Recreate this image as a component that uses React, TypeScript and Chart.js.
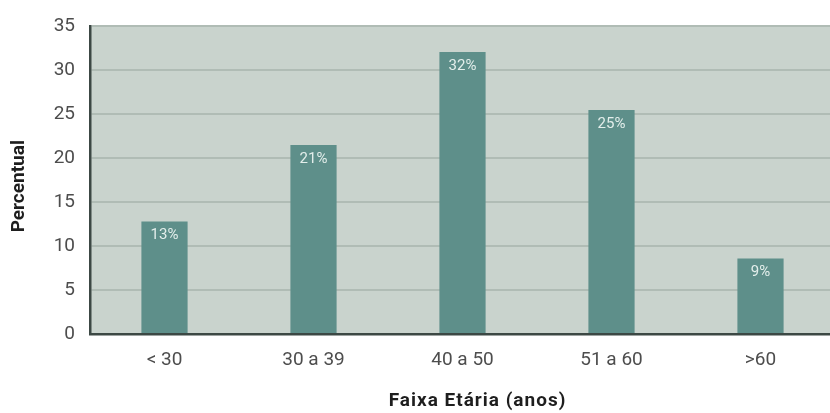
import React, { useEffect, useRef } from "react";
import { Chart, registerables } from "chart.js";

Chart.register(...registerables);

const categories = ["< 30", "30 a 39", "40 a 50", "51 a 60", ">60"];
const values = [12.8, 21.5, 32.1, 25.5, 8.6];
const valueLabels = ["13%", "21%", "32%", "25%", "9%"];
const yTicks = [0, 5, 10, 15, 20, 25, 30, 35];
const xTitle = "Faixa Etária (anos)";
const yTitle = "Percentual";

const bgPlugin = {
  id: "plotBg",
  beforeDraw(chart: any) {
    const { ctx, chartArea } = chart;
    ctx.save();
    ctx.fillStyle = "#c9d3cd";
    ctx.fillRect(chartArea.left, chartArea.top, chartArea.right - chartArea.left, chartArea.bottom - chartArea.top);
    ctx.restore();
  },
};

const labelPlugin = {
  id: "barLabels",
  afterDatasetsDraw(chart: any) {
    const { ctx } = chart;
    const meta = chart.getDatasetMeta(0);
    ctx.save();
    ctx.fillStyle = "#e3eeeb";
    ctx.font = "15px Roboto";
    ctx.textAlign = "center";
    ctx.textBaseline = "middle";
    meta.data.forEach((bar: any, i: number) => {
      ctx.fillText(valueLabels[i], bar.x, bar.y + 14);
    });
    ctx.restore();
  },
};

const titlePlugin = {
  id: "axisTitles",
  afterDraw(chart: any) {
    const { ctx, chartArea } = chart;
    ctx.save();
    ctx.fillStyle = "#1e1e1e";
    ctx.font = "bold 19px Roboto";
    ctx.textAlign = "center";
    ctx.textBaseline = "middle";
    (ctx as any).letterSpacing = "1px";
    const xCenter = (chartArea.left + chartArea.right) / 2 + 15;
    ctx.fillText(xTitle, xCenter, chartArea.bottom + 67);
    (ctx as any).letterSpacing = "0px";
    ctx.translate(19, (chartArea.top + chartArea.bottom) / 2 + 6);
    ctx.rotate(-Math.PI / 2);
    ctx.fillText(yTitle, 0, 0);
    ctx.restore();
  },
};

export default function App() {
  const ref = useRef<HTMLCanvasElement>(null);
  useEffect(() => {
    if (!ref.current) return;
    const chart = new Chart(ref.current, {
      type: "bar",
      data: {
        labels: categories,
        datasets: [
          {
            data: values,
            backgroundColor: "#5e8f8a",
            barPercentage: 0.31,
            categoryPercentage: 1,
          },
        ],
      },
      options: {
        responsive: false,
        animation: false,
        layout: { padding: { top: 26, right: 0, bottom: 0, left: 0 } },
        plugins: { legend: { display: false }, tooltip: { enabled: false } },
        scales: {
          x: {
            grid: { display: false },
            border: { color: "#3c4844", width: 2.5 },
            ticks: { color: "#4d4d4d", font: { family: "Roboto", size: 19 }, padding: 7 },
            afterFit(s: any) {
              s.height = 79;
            },
          },
          y: {
            min: 0,
            max: 35,
            afterBuildTicks(s: any) {
              s.ticks = yTicks.map((v) => ({ value: v }));
            },
            grid: { color: "#b0bcb5", lineWidth: 2, drawTicks: false },
            border: { color: "#3c4844", width: 2.5 },
            ticks: { color: "#4d4d4d", font: { family: "Roboto", size: 19 }, padding: 15 },
            afterFit(s: any) {
              s.width = 90;
            },
          },
        },
      },
      plugins: [bgPlugin, labelPlugin, titlePlugin],
    });
    return () => chart.destroy();
  }, []);
  return (
    <div style={{ position: "fixed", left: 0, top: 0, width: 830, height: 413, overflow: "hidden", background: "#fff" }}>
      <canvas ref={ref} width={835} height={413} style={{ width: 835, height: 413 }} />
    </div>
  );
}
